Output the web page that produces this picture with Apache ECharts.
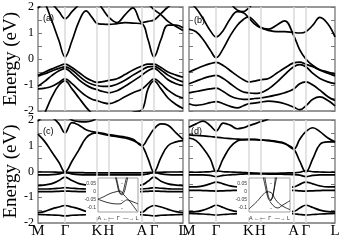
<!DOCTYPE html>
<html><head><meta charset="utf-8">
<script src="https://cdn.jsdelivr.net/npm/echarts@6/dist/echarts.min.js"></script>
<style>html,body{margin:0;padding:0;background:#fff}#c{width:343px;height:245px}</style>
</head><body><div id="c"></div>
<script>
// k-path sampling (distance along M-Γ-K-H-A-Γ-L)
const kGrid = [0,7,14,21,27,34,41,48,54,59,65,71,79,87,95,104,110,116,123,130,138,145];
const kTickPos = [0,27,59,71,104,116,145];
const kTickNames = ['M','Γ','K','H','A','Γ','L'];
const panelLabels = ['(a)','(b)','(c)','(d)'];

// ---- panel (a)
const a_c1 = [2.6,2.15,1.45,0.7,0.08,0.7,1.45,1.85,1.6,1.37,1.34,1.33,1.36,1.4,1.38,1.35,0.75,0.08,0.75,1.3,1.3,1.2];
const a_c2 = [1.95,2.15,2.1,1.82,1.55,1.82,2.1,2.4,2.6,2.6,2.6,2.6,2.6,2.6,2.6,2.6,2.6,2.6,2.6,2.6,2.6,2.6];
const a_c3 = [2.6,2.6,2.6,2.6,2.6,2.6,2.6,2.6,2.5,2.25,1.9,1.6,1.4,1.7,1.97,1.4,1.45,1.5,1.75,2.0,2.2,2.4];
const a_c4 = [2.6,2.6,2.6,2.6,2.6,2.6,2.6,2.6,2.6,2.6,2.6,2.6,2.6,2.6,2.6,2.6,2.15,1.9,1.7,1.45,1.25,1.1];
const a_v1 = [-0.63,-0.5,-0.38,-0.27,-0.2,-0.33,-0.52,-0.72,-0.84,-0.9,-0.87,-0.82,-0.76,-0.6,-0.42,-0.27,-0.2,-0.2,-0.33,-0.5,-0.62,-0.7];
const a_v2 = [-0.66,-0.57,-0.46,-0.36,-0.3,-0.42,-0.65,-0.86,-0.97,-1.02,-1.05,-1.05,-0.97,-0.82,-0.62,-0.42,-0.3,-0.28,-0.42,-0.62,-0.78,-0.88];
const a_v3 = [-1.05,-0.85,-0.63,-0.45,-0.37,-0.55,-0.8,-1.0,-1.12,-1.18,-1.25,-1.3,-1.22,-1.05,-0.85,-0.62,-0.45,-0.36,-0.55,-0.8,-0.95,-1.02];
const a_v4 = [-1.15,-1.12,-1.05,-0.9,-0.76,-0.95,-1.2,-1.42,-1.55,-1.6,-1.68,-1.72,-1.62,-1.45,-1.3,-1.15,-0.95,-0.76,-0.95,-1.2,-1.4,-1.5];
const a_v5 = [-2.6,-2.05,-1.45,-1.0,-0.84,-1.15,-1.5,-1.85,-2.1,-2.3,-2.5,-2.5,-2.4,-2.2,-2.05,-1.95,-1.15,-0.84,-1.15,-1.5,-1.75,-1.9];

// ---- panel (b)
const b_c1 = [1.15,1.05,0.75,0.35,0.05,0.4,0.9,1.3,1.52,1.62,1.45,1.22,1.15,1.3,1.47,0.9,0.35,0.0,-0.25,-0.42,-0.55,-0.65];
const b_c2 = [2.2,1.95,1.55,1.1,0.85,1.1,1.55,1.82,1.78,1.6,1.35,1.2,1.1,1.05,1.05,1.02,1.0,1.05,1.3,1.6,1.35,0.85];
const b_c3 = [2.6,2.6,2.6,2.6,2.6,2.5,2.15,1.88,1.82,1.95,2.2,2.5,2.6,2.6,2.6,2.6,2.6,2.6,2.6,2.6,2.6,2.6];
const b_v1 = [-0.5,-0.38,-0.27,-0.18,-0.13,-0.25,-0.45,-0.65,-0.8,-0.88,-0.85,-0.8,-0.75,-0.55,-0.35,-0.15,-0.12,-0.2,-0.3,-0.42,-0.5,-0.58];
const b_v2 = [-0.95,-0.85,-0.75,-0.67,-0.63,-0.75,-0.95,-1.15,-1.27,-1.3,-1.32,-1.3,-1.15,-0.9,-0.6,-0.3,-0.22,-0.3,-0.55,-0.75,-0.88,-0.95];
const b_v3 = [-1.3,-1.25,-1.2,-1.15,-1.12,-1.25,-1.42,-1.52,-1.55,-1.55,-1.52,-1.5,-1.45,-1.38,-1.3,-1.15,-0.95,-0.88,-1.0,-1.2,-1.45,-1.6];
const b_v4 = [-1.72,-1.78,-1.75,-1.68,-1.64,-1.72,-1.82,-1.88,-1.8,-1.72,-1.7,-1.66,-1.62,-1.65,-1.72,-1.85,-1.95,-1.8,-1.55,-1.46,-1.6,-1.8];

// ---- panel (c)
const c_c1 = [1.45,1.15,0.75,0.35,-0.02,0.4,0.85,1.3,1.47,1.5,1.45,1.4,1.35,1.3,1.2,1.0,0.5,-0.02,0.55,1.0,1.15,1.2];
const c_c2 = [1.95,2.15,2.1,1.85,1.5,1.9,1.8,1.62,1.55,1.52,1.48,1.43,1.38,1.34,1.25,1.0,1.3,1.65,1.85,1.8,1.5,1.25];
const c_c3 = [2.6,2.6,2.6,2.4,2.2,2.0,1.94,1.93,1.97,2.1,2.4,2.6,2.6,2.6,2.6,2.6,2.6,2.6,2.6,2.6,2.6,2.6];
const c_v1 = [-0.02,-0.02,-0.02,-0.03,-0.03,-0.04,-0.04,-0.05,-0.05,-0.05,-0.05,-0.05,-0.05,-0.05,-0.05,-0.05,-0.04,-0.03,-0.03,-0.02,-0.02,-0.02];
const c_v2 = [-0.13,-0.13,-0.12,-0.09,-0.04,-0.09,-0.12,-0.13,-0.13,-0.13,-0.13,-0.13,-0.13,-0.13,-0.13,-0.13,-0.09,-0.04,-0.09,-0.12,-0.13,-0.13];
const c_v3 = [-0.55,-0.52,-0.47,-0.35,-0.22,-0.35,-0.47,-0.52,-0.55,-0.57,-0.58,-0.58,-0.58,-0.57,-0.55,-0.52,-0.38,-0.22,-0.38,-0.48,-0.53,-0.55];
const c_v4 = [-0.68,-0.68,-0.67,-0.65,-0.63,-0.65,-0.67,-0.68,-0.69,-0.7,-0.7,-0.7,-0.7,-0.7,-0.69,-0.68,-0.66,-0.63,-0.65,-0.67,-0.68,-0.68];
const c_v5 = [-0.78,-0.78,-0.78,-0.77,-0.76,-0.77,-0.78,-0.78,-0.79,-0.8,-0.8,-0.8,-0.8,-0.8,-0.79,-0.78,-0.77,-0.76,-0.77,-0.78,-0.78,-0.78];
const c_v6 = [-1.6,-1.55,-1.45,-1.38,-1.32,-1.38,-1.45,-1.55,-1.6,-1.6,-1.6,-1.6,-1.6,-1.6,-1.6,-1.58,-1.42,-1.32,-1.38,-1.47,-1.56,-1.6];
const c_v7 = [-1.67,-1.68,-1.69,-1.7,-1.72,-1.7,-1.69,-1.68,-1.67,-1.67,-1.67,-1.67,-1.67,-1.67,-1.67,-1.68,-1.7,-1.72,-1.7,-1.69,-1.68,-1.67];

// ---- panel (d)
const d_c1 = [1.3,1.2,0.9,0.5,-0.02,0.5,0.95,1.18,1.23,1.24,1.24,1.22,1.2,1.15,1.08,0.87,0.4,-0.02,0.5,1.05,1.15,1.15];
const d_c2 = [1.42,1.4,1.38,1.36,1.33,1.3,1.28,1.26,1.25,1.25,1.25,1.23,1.21,1.17,1.1,0.87,1.25,1.55,1.7,1.55,1.3,1.15];
const d_c3 = [1.72,1.85,1.96,1.78,1.58,1.88,1.8,1.66,1.7,1.77,1.85,1.93,2.05,2.3,2.6,2.6,2.6,2.6,2.6,2.6,2.6,2.6];
const d_v1 = [-0.03,-0.03,-0.02,-0.01,0.03,-0.01,-0.02,-0.03,-0.04,-0.05,-0.06,-0.07,-0.07,-0.07,-0.06,-0.05,-0.03,0.03,-0.01,-0.02,-0.03,-0.03];
const d_v2 = [-0.13,-0.13,-0.13,-0.15,-0.2,-0.15,-0.13,-0.11,-0.1,-0.09,-0.09,-0.09,-0.1,-0.1,-0.11,-0.12,-0.14,-0.2,-0.15,-0.13,-0.13,-0.13];
const d_v3 = [-0.6,-0.6,-0.56,-0.48,-0.41,-0.48,-0.56,-0.6,-0.62,-0.62,-0.62,-0.62,-0.62,-0.62,-0.62,-0.6,-0.5,-0.41,-0.48,-0.56,-0.6,-0.6];
const d_v4 = [-0.73,-0.73,-0.74,-0.75,-0.76,-0.75,-0.74,-0.73,-0.73,-0.73,-0.73,-0.73,-0.73,-0.73,-0.73,-0.73,-0.75,-0.76,-0.75,-0.74,-0.73,-0.73];
const d_v5 = [-1.57,-1.56,-1.5,-1.4,-1.31,-1.4,-1.5,-1.56,-1.57,-1.57,-1.57,-1.57,-1.57,-1.57,-1.57,-1.55,-1.42,-1.31,-1.4,-1.5,-1.56,-1.57];
const d_v6 = [-1.63,-1.64,-1.65,-1.67,-1.69,-1.67,-1.65,-1.64,-1.63,-1.63,-1.63,-1.63,-1.63,-1.63,-1.63,-1.64,-1.67,-1.69,-1.67,-1.65,-1.64,-1.63];

// ---- insets (x: distance from Γ, A side negative, L side positive)
const insetYTicks = [-0.1,-0.05,0,0.05];
const insetKName = 'A ←—  Γ  —→ L';
const ic1x = [-23,-17,-11,-5,-1,3,9,16];
const ic1y = [-0.046,-0.03,-0.011,0.0,0.005,-0.02,-0.061,-0.12];
const ic2x = [-23,-17,-11,-5,-1,3,6,9,13,17];
const ic2y = [-0.046,-0.06,-0.07,-0.075,-0.075,-0.06,-0.05,-0.055,-0.065,-0.075];
const ic3x = [-6,-4,-2,0,2,4,6];
const ic3y = [0.1,0.05,0.0,-0.015,0.0,0.05,0.1];
const ic4x = [-5,-3,-1,1,3,5,7];
const ic4y = [0.1,0.04,-0.005,-0.02,-0.005,0.04,0.1];
const id1x = [-21,-13,-7,-3,0,2,7,13,20];
const id1y = [-0.106,-0.06,-0.018,0.0,-0.002,-0.012,-0.06,-0.09,-0.11];
const id2x = [-7,-5,-3,-1.5,0,1.5,3,5,7];
const id2y = [0.1,0.04,-0.015,-0.045,-0.055,-0.045,-0.015,0.04,0.1];
const id3x = [-5.5,-3.5,-1.5,0.5,2,3.5,5.5];
const id3y = [0.1,0.03,-0.03,-0.05,-0.045,-0.01,0.1];
const id4x = [0,4,8,12,16,20];
const id4y = [-0.06,-0.09,-0.1,-0.085,-0.07,-0.055];

const panels = [
  [a_c1,a_c2,a_c3,a_c4,a_v1,a_v2,a_v3,a_v4,a_v5],
  [b_c1,b_c2,b_c3,b_v1,b_v2,b_v3,b_v4],
  [c_c1,c_c2,c_c3,c_v1,c_v2,c_v3,c_v4,c_v5,c_v6,c_v7],
  [d_c1,d_c2,d_c3,d_v1,d_v2,d_v3,d_v4,d_v5,d_v6]
];
const insetC = [[ic1x,ic1y],[ic2x,ic2y],[ic3x,ic3y],[ic4x,ic4y]];
const insetD = [[id1x,id1y],[id2x,id2y],[id3x,id3y],[id4x,id4y]];

const SERIF = 'Liberation Serif';
const frameColor = '#777';
const grids = [
  {left:38, top:7, width:145, height:104},
  {left:189, top:7, width:146, height:104},
  {left:38, top:120, width:145, height:103},
  {left:189, top:120, width:146, height:103},
  {left:98, top:178, width:40, height:34},
  {left:249, top:178, width:41, height:34}
].map((g,i)=>Object.assign({show:true, borderColor: i<4?frameColor:'#888', borderWidth: i<4?1.3:0.8,
  backgroundColor: i<4?'transparent':'#fff', z: i<4?0:11}, g));

const xAxes = [], yAxes = [], series = [];
for (let i=0;i<4;i++){
  const bottom = i>=2, leftCol = (i%2===0);
  xAxes.push({type:'value', gridIndex:i, min:0, max:145, axisLine:{show:false}, axisTick:{show:false}, splitLine:{show:false},
    axisLabel: bottom ? {show:true, customValues:kTickPos, formatter:v=>kTickNames[kTickPos.indexOf(v)],
      fontFamily:SERIF, fontSize:15, color:'#000', margin:1} : {show:false}});
  const yBase = {type:'value', gridIndex:i, min:-2, max:2, interval:0.5, axisLine:{show:false}, splitLine:{show:false},
    axisTick:{show:true, inside:true, length:4, lineStyle:{color:frameColor, width:1}}};
  yAxes.push(Object.assign({}, yBase, {position:'left',
    axisLabel: leftCol ? {formatter:v=>Number.isInteger(v)?String(v):'', fontFamily:SERIF, fontSize:12, color:'#000', margin:4} : {show:false},
    name: leftCol ? 'Energy (eV)' : '', nameLocation:'middle', nameGap:16,
    nameTextStyle:{fontFamily:SERIF, fontSize:19, color:'#000'}}));
  yAxes.push(Object.assign({}, yBase, {position:'right', axisLabel:{show:false}}));
  // high-symmetry vertical lines
  series.push({type:'line', xAxisIndex:i, yAxisIndex:2*i, data:[], z:1, silent:true,
    markLine:{silent:true, symbol:['none','none'], label:{show:false}, animation:false,
      lineStyle:{color:'#dadada', width:1.5, type:'solid'},
      data:kTickPos.slice(1,-1).map(v=>({xAxis:v}))}});
  panels[i].forEach(b=>{
    series.push({type:'line', xAxisIndex:i, yAxisIndex:2*i, data:kGrid.map((k,j)=>[k,b[j]]),
      symbol:'none', smooth:0.4, silent:true, z:3, clip:true, lineStyle:{color:'#000', width:1.7}});
  });
}
// insets
[[insetC,-23,17],[insetD,-21,20]].forEach(([curves,xmin,xmax],n)=>{
  const gi = 4+n;
  xAxes.push({type:'value', gridIndex:gi, min:xmin, max:xmax, z:12, axisLine:{show:false}, axisTick:{show:false}, splitLine:{show:false},
    axisLabel:{show:false}, name:insetKName, nameLocation:'middle', nameGap:3,
    nameTextStyle:{fontFamily:'Liberation Sans', fontSize:5.5, color:'#333', verticalAlign:'top'}});
  yAxes.push({type:'value', gridIndex:gi, min:-0.125, max:0.085, z:12, axisLine:{show:false}, splitLine:{show:false},
    axisTick:{show:true, inside:true, length:2, customValues:insetYTicks, lineStyle:{color:'#888', width:0.6}},
    axisLabel:{show:true, customValues:insetYTicks, fontFamily:'Liberation Sans', fontSize:5, color:'#333', margin:2}});
  series.push({type:'line', xAxisIndex:gi, yAxisIndex:8+n, data:[], z:12, silent:true,
    markLine:{silent:true, symbol:['none','none'], label:{show:false}, animation:false,
      lineStyle:{color:'#ccc', width:0.8, type:'solid'}, data:[{xAxis:0}]}});
  curves.forEach(([xs,ys])=>{
    series.push({type:'line', xAxisIndex:gi, yAxisIndex:8+n, data:xs.map((x,j)=>[x,ys[j]]),
      symbol:'none', smooth:0.4, silent:true, z:13, clip:true, lineStyle:{color:'#000', width:0.8}});
  });
});

const graphic = [
  {type:'rect', shape:{x:86, y:176, width:54, height:41}, style:{fill:'#fff'}, z:10},
  {type:'rect', shape:{x:237, y:176, width:55, height:41}, style:{fill:'#fff'}, z:10},
  {type:'text', x:43, y:14, style:{text:panelLabels[0], fontFamily:'Liberation Sans', fontSize:9, fill:'#000'}, z:20},
  {type:'text', x:194, y:16, style:{text:panelLabels[1], fontFamily:'Liberation Sans', fontSize:9, fill:'#000'}, z:20},
  {type:'text', x:43, y:127, style:{text:panelLabels[2], fontFamily:'Liberation Sans', fontSize:9, fill:'#000'}, z:20},
  {type:'text', x:191, y:127, style:{text:panelLabels[3], fontFamily:'Liberation Sans', fontSize:9, fill:'#000'}, z:20}
];

const chart = echarts.init(document.getElementById('c'), null, {renderer:'canvas'});
chart.setOption({animation:false, backgroundColor:'#fff', grid:grids, xAxis:xAxes, yAxis:yAxes, series:series, graphic:graphic});
</script></body></html>
